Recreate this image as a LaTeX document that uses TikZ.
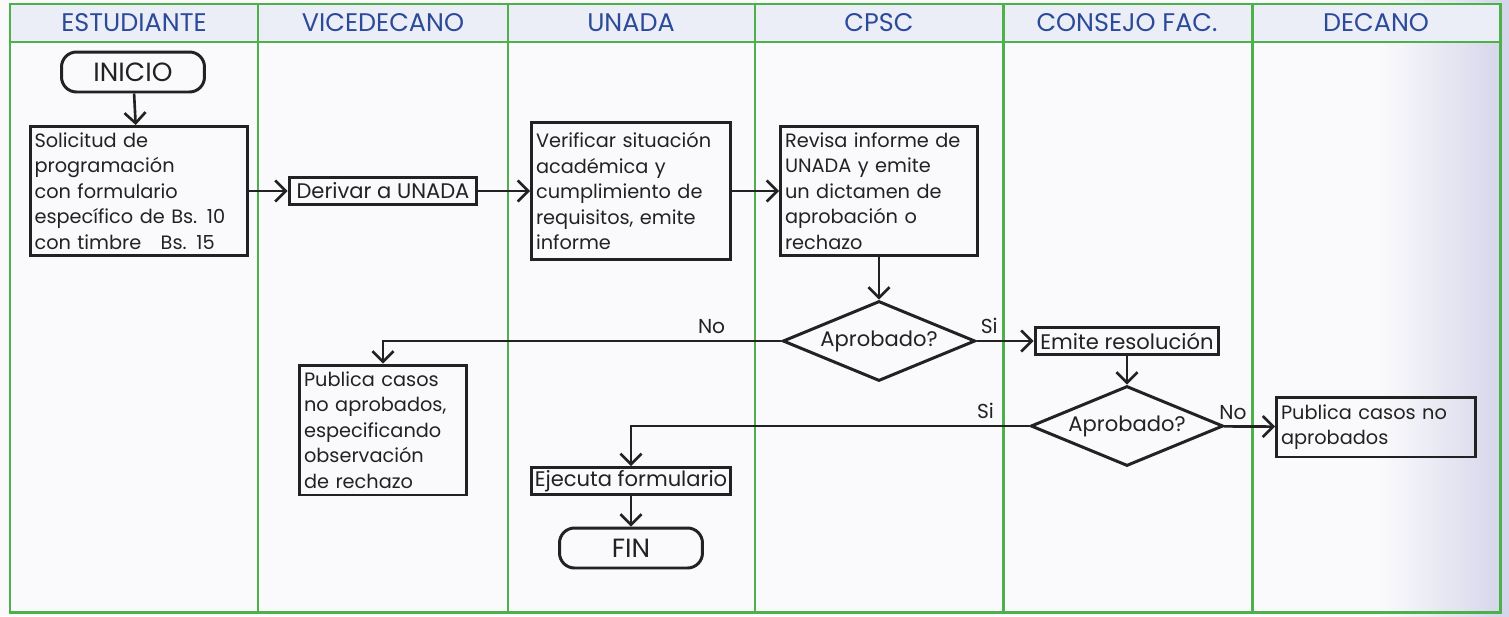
\documentclass[tikz,border=0pt]{standalone}
\usepackage{fontspec}
\setmainfont{Poppins}
\usetikzlibrary{shapes.geometric,arrows.meta}
\definecolor{lanegreen}{HTML}{4DB04A}
\definecolor{headblue}{HTML}{2C4A9A}
\definecolor{paper}{HTML}{FAFAFC}
\definecolor{headband}{HTML}{EBEEF6}
\definecolor{lavender}{HTML}{D4D4EA}
\definecolor{ink}{HTML}{222222}

\begin{document}
\begin{tikzpicture}[x=0.02cm,y=-0.02cm,
    >={Straight Barb[length=6pt,width=12pt]},
    lane/.style={draw=lanegreen,line width=1.7pt},
    head/.style={text=headblue,font=\fontsize{14.5}{16}\selectfont},
    box/.style={draw=ink,line width=1.7pt,align=left,text=ink,
      font=\fontsize{11}{14.5}\selectfont,inner xsep=2.5pt,inner ysep=1.5pt},
    slim/.style={box,font=\fontsize{12}{14.5}\selectfont,minimum height=0.54cm,inner xsep=1pt},
    term/.style={draw=ink,line width=1.7pt,rounded corners=0.3cm,text=ink,
      minimum width=2.86cm,minimum height=0.8cm,font=\fontsize{15}{17}\selectfont},
    ask/.style={diamond,draw=ink,line width=1.7pt,aspect=2.4,text=ink,
      minimum width=3.85cm,minimum height=1.6cm,inner sep=0pt,
      font=\fontsize{12}{14.5}\selectfont},
    flow/.style={->,line width=1.5pt,draw=ink},
    tag/.style={above,text=ink,font=\fontsize{11.5}{14.5}\selectfont}]
        % fondo y carriles
        \useasboundingbox (0,0) rectangle (1509,616);
        \fill[paper] (0,0) rectangle (1509,616);
        \shade[left color=paper,right color=lavender] (1380,0) rectangle (1509,616);
        \fill[headband] (10,4) rectangle (1500,42);
        \draw[lane] (10,4) rectangle (1500,612);
        \draw[lane] (10,42) -- (1500,42);
        \foreach \x in {258,508,755,1003,1252}
          \draw[lane] (\x,4) -- (\x,612);
        \node[head] (h1) at (134,23) {ESTUDIANTE};
        \node[head] (h2) at (383,23) {VICEDECANO};
        \node[head] (h3) at (631,23) {UNADA};
        \node[head] (h4) at (879,23) {CPSC};
        \node[head] (h5) at (1127,23) {CONSEJO FAC.};
        \node[head] (h6) at (1376,23) {DECANO};
        % pasos
        \node[term] (r1c1) at (133,72) {INICIO};
        \node[box,text width=4.18cm,minimum height=2.58cm] (r2c1) at (139,191)
          {Solicitud de\\programación\\con formulario\\específico de Bs. 10\\con timbre\ \ \ Bs. 15};
        \node[slim,minimum width=3.76cm] (r2c2) at (383,191) {Derivar a UNADA};
        \node[box,text width=3.8cm,minimum height=2.74cm] (r2c3) at (631,191)
          {Verificar situación\\académica y\\cumplimiento de\\requisitos, emite\\informe};
        \node[box,text width=3.76cm,minimum height=2.58cm] (r2c4) at (879,191)
          {Revisa informe de\\UNADA y emite\\un dictamen de\\aprobación o\\rechazo};
        \node[ask] (r3c4) at (879,341) {Aprobado?};
        \node[slim,minimum width=3.68cm] (r3c5) at (1127,341) {Emite resolución};
        \node[ask] (r4c5) at (1127,426) {Aprobado?};
        \node[box,text width=3.8cm,minimum height=1.2cm] (r4c6) at (1376,427)
          {Publica casos no\\aprobados};
        \node[box,text width=3.16cm,minimum height=2.6cm] (r4c2) at (383,430)
          {Publica casos\\no aprobados,\\especificando\\observación\\de rechazo};
        \node[slim,minimum width=4cm] (r4c3) at (631,481) {Ejecuta formulario};
        \node[term] (r5c3) at (631,548) {FIN};
        % conectores
        \draw[flow] (r1c1) -- (r2c1);
        \draw[flow] (r2c1) -- (r2c2);
        \draw[flow] (r2c2) -- (r2c3);
        \draw[flow] (r2c3) -- (r2c4);
        \draw[flow] (r2c4) -- (r3c4);
        \draw[flow] (r3c4) -- node[tag,pos=0.22] {Si} (r3c5);
        \draw[flow] (r3c4.west) -- node[tag,pos=0.175] {No} (r3c4.west -| r4c2) -- (r4c2);
        \draw[flow] (r3c5) -- (r4c5);
        \draw[flow] (r4c5) -- node[tag,pos=0.18] {No} (r4c6);
        \draw[flow] (r4c5.west) -- node[tag,pos=0.11] {Si} (r4c5.west -| r4c3) -- (r4c3);
        \draw[flow] (r4c3) -- (r5c3);
\end{tikzpicture}
\end{document}
